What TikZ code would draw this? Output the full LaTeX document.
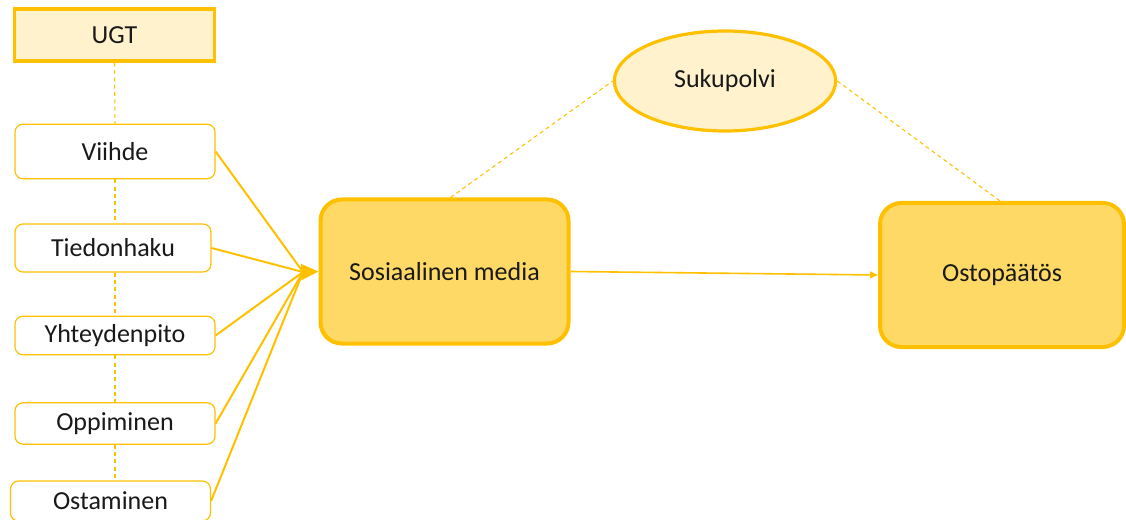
\documentclass[tikz,border=0pt]{standalone}
\usepackage{fontspec}
\setmainfont{Carlito}
\usetikzlibrary{positioning,calc,arrows.meta,shapes.geometric}
\definecolor{gold}{HTML}{FFC000}
\definecolor{lightgold}{HTML}{FFF2CC}
\definecolor{midgold}{HTML}{FFD966}

\begin{document}
\begin{tikzpicture}[
        x=0.75pt, y=-0.75pt,
        every node/.style={font=\fontsize{19.5}{23}\selectfont, text=black!90},
        motive/.style={draw=gold, line width=0.9pt, fill=white, rectangle, rounded corners=6pt, minimum width=150pt, inner sep=0pt},
        mainbox/.style={draw=gold, line width=3pt, fill=midgold, rectangle, rounded corners=16pt, minimum width=186pt, minimum height=108pt, inner sep=0pt},
        link/.style={dashed, dash pattern=on 3pt off 2.5pt, draw=gold, line width=0.8pt},
        arrow/.style={draw=gold, line width=1.5pt}
    ]
        \useasboundingbox (0,0) rectangle (1126,520);

        % UGT side
        \node[draw=gold, line width=2.4pt, fill=lightgold, rectangle, minimum width=150pt, minimum height=39pt, inner sep=0pt] (ugt) at (114.5, 35) {UGT};
        \node[motive, minimum height=41pt] (viihde) at (115, 151.5) {Viihde};
        \node[motive, minimum width=147pt, minimum height=36pt] (tieto) at (113, 248) {Tiedonhaku};
        \node[motive, minimum height=29pt] (yhteys) at (115, 335.5) {Yhteydenpito};
        \node[motive, minimum height=31pt] (oppi) at (115, 423.5) {Oppiminen};
        \node[motive, minimum height=30pt] (osta) at (110.5, 501) {Ostaminen};

        % Main boxes
        \node[mainbox] (media) at (444.5, 271.5) {Sosiaalinen media};
        \node[mainbox, minimum width=183pt] (paatos) at (1002, 275) {Ostopäätös};
        \node[draw=gold, line width=2.4pt, fill=lightgold, ellipse, minimum width=166pt, minimum height=75pt, inner sep=0pt] (polvi) at (725, 81) {Sukupolvi};

        % Dashed links
        \draw[link] (ugt.south) -- (viihde.north);
        \draw[link] (viihde.south) -- (viihde.south |- tieto.north);
        \draw[link] (viihde.south |- tieto.south) -- (viihde.south |- yhteys.north);
        \draw[link] (viihde.south |- yhteys.south) -- (viihde.south |- oppi.north);
        \draw[link] (viihde.south |- oppi.south) -- (viihde.south |- osta.north);
        \draw[link] ($(media.north)+(6,0)$) -- (polvi.west);
        \draw[link] (polvi.east) -- ($(paatos.north)+(-2,0)$);

        % Arrows
        \coordinate (hub) at (303, 272);
        \foreach \src in {viihde, tieto, yhteys, oppi, osta}
            \draw[arrow] (\src.east) -- (hub);
        \draw[arrow, -{Triangle[length=13pt, width=12pt]}] (hub) -- (media.west);
        \draw[draw=gold, line width=1.2pt, -{Triangle[length=6pt, width=5pt]}] (media.east) -- (paatos.west);
    \end{tikzpicture}
\end{document}
